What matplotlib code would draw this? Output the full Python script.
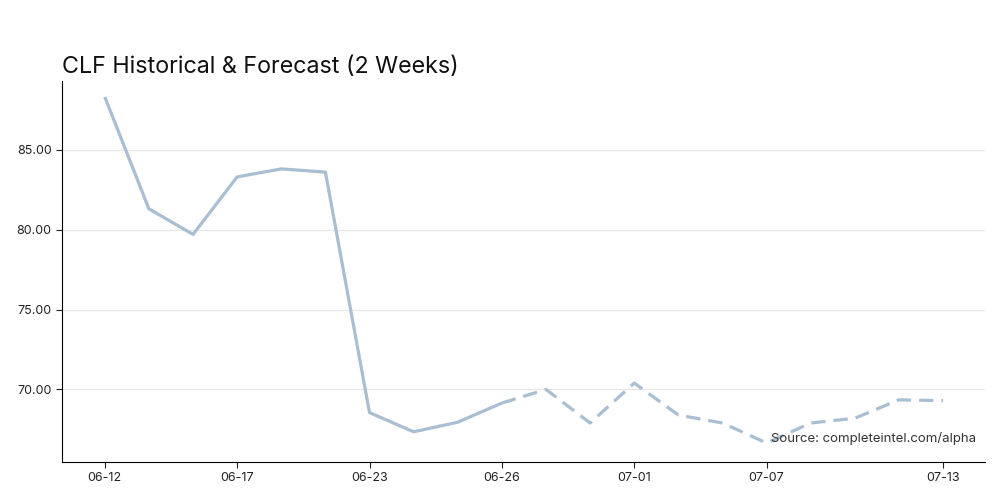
import matplotlib.pyplot as plt

plt.rcParams['font.family'] = ['Inter', 'DejaVu Sans']

LINE_COLOR = '#a8bed2'

# Historical closes (trading days) and 2-week forecast
hist_values = [88.3, 81.3, 79.7, 83.3, 83.8, 83.6, 68.55, 67.35, 67.95, 69.15]
fcst_values = [69.15, 70.0, 67.9, 70.4, 68.4, 67.9, 66.65, 67.9, 68.2, 69.35, 69.3]
tick_pos = [0, 3, 6, 9, 12, 15, 19]
tick_labels = ['06-12', '06-17', '06-23', '06-26', '07-01', '07-07', '07-13']

hist_x = list(range(len(hist_values)))
fcst_x = list(range(len(hist_values) - 1, len(hist_values) - 1 + len(fcst_values)))

fig = plt.figure(figsize=(10, 5), dpi=100)
ax = fig.add_axes([0.062, 0.076, 0.923, 0.762])

ax.plot(hist_x, hist_values, color=LINE_COLOR, linewidth=2.3, solid_capstyle='butt')
ax.plot(fcst_x, fcst_values, color=LINE_COLOR, linewidth=2.3, linestyle=(0, (4.5, 2.5)))

ax.set_xlim(-0.97, 19.95)
ax.set_ylim(65.46, 89.3)
ax.set_yticks([70, 75, 80, 85])
ax.set_yticklabels(['70.00', '75.00', '80.00', '85.00'])
ax.set_xticks(tick_pos)
ax.set_xticklabels(tick_labels)
ax.tick_params(labelsize=9, length=4, colors='#222222')

ax.grid(axis='y', color='#e6e6e6', linewidth=0.8)
ax.set_axisbelow(True)
for side in ['top', 'right']:
    ax.spines[side].set_visible(False)

ax.set_title('CLF Historical & Forecast (2 Weeks)', loc='left', fontsize=16.8, pad=6, color='#111111')
ax.text(0.99, 0.045, 'Source: completeintel.com/alpha', transform=ax.transAxes,
        ha='right', va='bottom', fontsize=9.5, color='#333333')

fig.savefig('out.png', dpi=100)
